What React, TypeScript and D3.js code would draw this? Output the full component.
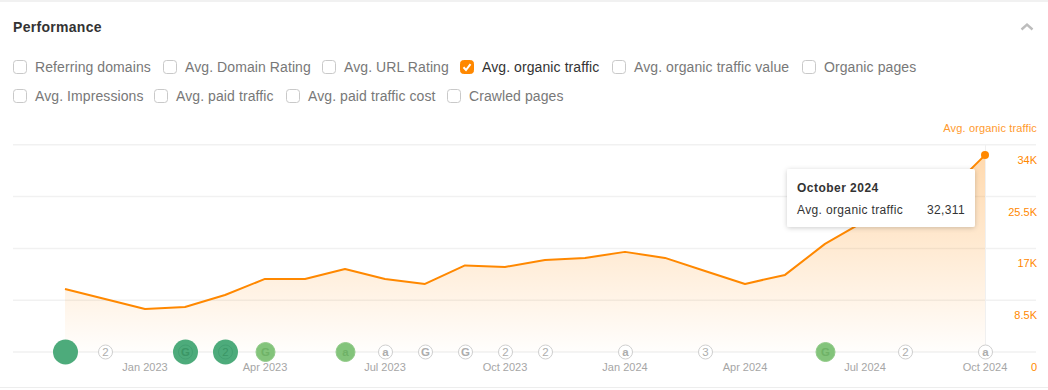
import React from "react";
import * as d3 from "d3";

const width = 1048;
const height = 390;
const FONT = "'Liberation Sans', Arial, sans-serif";

const months = ["Nov 2022","Dec 2022","Jan 2023","Feb 2023","Mar 2023","Apr 2023","May 2023","Jun 2023","Jul 2023","Aug 2023","Sep 2023","Oct 2023","Nov 2023","Dec 2023","Jan 2024","Feb 2024","Mar 2024","Apr 2024","May 2024","Jun 2024","Jul 2024","Aug 2024","Sep 2024","Oct 2024"];
const traffic = [10350,8700,7060,7390,9360,11990,11990,13630,11990,11170,14210,13960,15110,15440,16430,15440,13300,11170,12650,17740,21520,22830,25790,32311];
const yTicks = [0,8500,17000,25500,34000];
const yTickLabels = ["0","8.5K","17K","25.5K","34K"];
const xTickMonths = ["Jan 2023","Apr 2023","Jul 2023","Oct 2023","Jan 2024","Apr 2024","Jul 2024","Oct 2024"];

const markerMonths = ["Nov 2022","Dec 2022","Feb 2023","Mar 2023","Apr 2023","Jun 2023","Jul 2023","Aug 2023","Sep 2023","Oct 2023","Nov 2023","Jan 2024","Mar 2024","Jun 2024","Aug 2024","Oct 2024"];
const markerLabels = ["","2","G","2","G","a","a","G","G","2","2","a","3","G","2","a"];
const markerKinds = ["big","small","big","big","mid","mid","small","small","small","small","small","small","small","mid","small","small"];

const row1Labels = ["Referring domains","Avg. Domain Rating","Avg. URL Rating","Avg. organic traffic","Avg. organic traffic value","Organic pages"];
const row1Boxes = [13,163,322,460,612,802];
const row2Labels = ["Avg. Impressions","Avg. paid traffic","Avg. paid traffic cost","Crawled pages"];
const row2Boxes = [13,154,286,447];

const ORANGE = "#ff8800";

function Check({ x, y, label, on }: { x: number; y: number; label: string; on: boolean }) {
  return (
    <g>
      <rect x={x + 0.5} y={y - 6.5} width={13} height={13} rx={3} fill={on ? ORANGE : "#fff"} stroke={on ? ORANGE : "#c9c9c9"} />
      {on && <path d={`M${x + 3.5} ${y + 0.3} L${x + 6} ${y + 3} L${x + 10.5} ${y - 2.8}`} fill="none" stroke="#fff" strokeWidth={2} />}
      <text x={x + 22} y={y + 5} fontSize={14} letterSpacing={0.09} fill={on ? "#333" : "#787878"}>{label}</text>
    </g>
  );
}

export default function App() {
  const x = d3.scalePoint<string>().domain(months).range([65, 985]);
  const y = d3.scaleLinear().domain([0, 34000]).range([352, 144.8]);
  const px = (m: string) => x(m) as number;
  const line = d3.line<number>().x((_, i) => px(months[i])).y((d) => y(d));
  const area = d3.area<number>().x((_, i) => px(months[i])).y0(y(0)).y1((d) => y(d));
  const last = traffic.length - 1;

  return (
    <svg width={width} height={height} style={{ position: "absolute", left: 0, top: 0, fontFamily: FONT }}>
      <defs>
        <linearGradient id="fillG" x1="0" y1="0" x2="0" y2="1">
          <stop offset="0" stopColor={ORANGE} stopOpacity={0.32} />
          <stop offset="1" stopColor={ORANGE} stopOpacity={0.01} />
        </linearGradient>
        <filter id="shadow" x="-10%" y="-20%" width="120%" height="150%">
          <feDropShadow dx="0" dy="1" stdDeviation="2.5" floodColor="#000" floodOpacity="0.2" />
        </filter>
      </defs>
      <rect width={width} height={height} fill="#fff" />
      <line x1={0} x2={width} y1={1} y2={1} stroke="#ededed" strokeWidth={1.5} />
      <line x1={0} x2={width} y1={387.5} y2={387.5} stroke="#ededed" />

      <text x={13} y={32} fontSize={14} fontWeight={700} letterSpacing={0.3} fill="#333">Performance</text>
      <path d="M1021.5 29.5 L1027 24.5 L1032.5 29.5" fill="none" stroke="#bdbdbd" strokeWidth={2.4} />

      {row1Labels.map((l, i) => <Check key={l} x={row1Boxes[i]} y={67} label={l} on={l === "Avg. organic traffic"} />)}
      {row2Labels.map((l, i) => <Check key={l} x={row2Boxes[i]} y={96} label={l} on={false} />)}

      <text x={1037} y={132} fontSize={11} letterSpacing={0.15} textAnchor="end" fill="#ff9a2e">Avg. organic traffic</text>

      {yTicks.map((t, i) => (
        <g key={t}>
          <line x1={13} x2={1036} y1={y(t)} y2={y(t)} stroke="#f1f1f1" strokeWidth={1.5} />
          <text x={1037} y={y(t) + 19} fontSize={11} textAnchor="end" fill={ORANGE}>{yTickLabels[i]}</text>
        </g>
      ))}
      <line x1={985.5} x2={985.5} y1={145} y2={352} stroke="#f0f0f0" />

      <path d={area(traffic) ?? ""} fill="url(#fillG)" />
      <path d={line(traffic) ?? ""} fill="none" stroke={ORANGE} strokeWidth={2} strokeLinejoin="round" />
      <circle cx={px(months[last])} cy={y(traffic[last])} r={4} fill={ORANGE} />

      {xTickMonths.map((m) => (
        <text key={m} x={px(m)} y={371} fontSize={11} letterSpacing={0} textAnchor="middle" fill="#a6a6a6">{m}</text>
      ))}

      {markerMonths.map((m, i) => {
        const k = markerKinds[i];
        const cx = px(m) + 0.5;
        const r = k === "big" ? 12.5 : k === "mid" ? 9.5 : 7;
        const fill = k === "big" ? "#4dab7b" : k === "mid" ? "#83c47b" : "#fff";
        const stroke = k === "small" ? "#cfcfcf" : k === "mid" ? "#93cb8a" : "none";
        const tc = k === "big" ? "#3b9666" : k === "mid" ? "#6fb267" : "#adadad";
        return (
          <g key={m}>
            <circle cx={cx} cy={352} r={r} fill={fill} stroke={stroke} />
            {k === "big" && markerLabels[i] && <circle cx={cx} cy={352} r={7} fill="none" stroke="#43a072" />}
            {markerLabels[i] && (
              <text x={cx} y={356} fontSize={11.5} fontWeight={markerLabels[i] === "G" || markerLabels[i] === "a" ? 700 : 400} textAnchor="middle" fill={tc}>{markerLabels[i]}</text>
            )}
          </g>
        );
      })}

      <g>
        <rect x={787} y={169} width={188} height={58} rx={2} fill="#fff" filter="url(#shadow)" />
        <text x={797} y={192} fontSize={12} fontWeight={700} letterSpacing={0.47} fill="#333">October 2024</text>
        <text x={797} y={214} fontSize={12} letterSpacing={0.36} fill="#333">Avg. organic traffic</text>
        <text x={965} y={214} fontSize={12} letterSpacing={0.36} textAnchor="end" fill="#333">{d3.format(",")(traffic[last])}</text>
      </g>
    </svg>
  );
}
